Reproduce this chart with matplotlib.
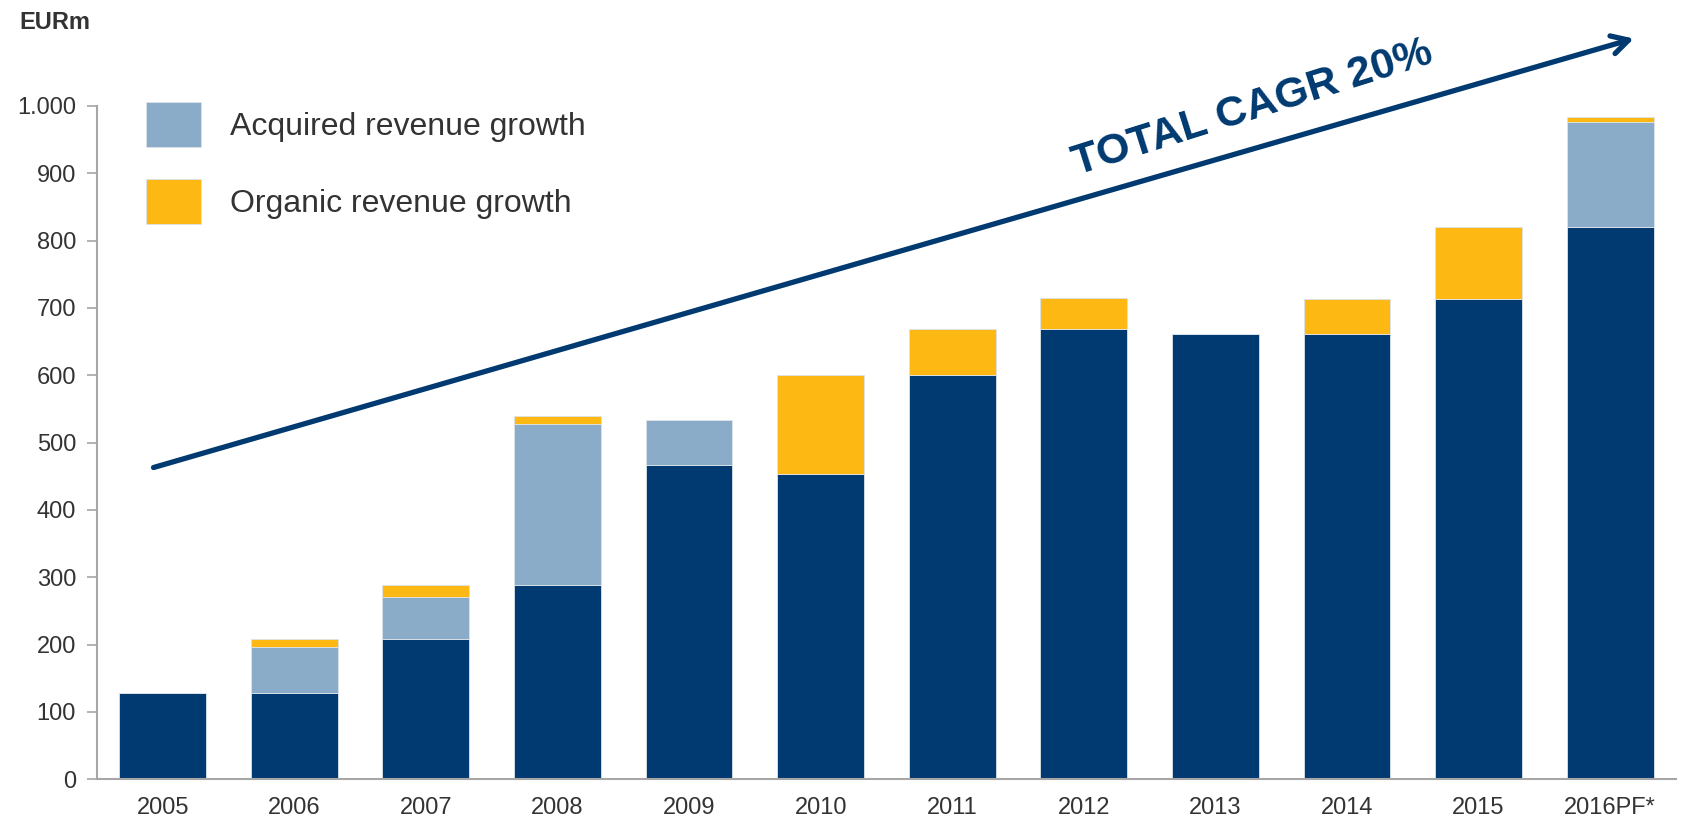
"""Revenue bridge: base revenue plus acquired and organic growth per year"""
import matplotlib

matplotlib.use("Agg")
import matplotlib.pyplot as plt  # pylint: disable=import-error
from matplotlib.ticker import FuncFormatter

plt.rcParams["font.family"] = ["Liberation Sans", "DejaVu Sans"]

YEARS = ["2005", "2006", "2007", "2008", "2009", "2010",
         "2011", "2012", "2013", "2014", "2015", "2016PF*"]
BASE = [128, 128, 208, 289, 467, 453, 600, 668, 662, 662, 713, 820]
ACQUIRED = [0, 69, 63, 238, 66, 0, 0, 0, 0, 0, 0, 156]
ORGANIC = [0, 11, 18, 13, 0, 147, 68, 46, 0, 51, 107, 8]
Y_TICKS = [0, 100, 200, 300, 400, 500, 600, 700, 800, 900, 1000]

DARK = "#003A70"
LIGHT = "#8AACC8"
ORANGE = "#FDB813"
TEXT = "#333333"
AXIS = "#A6A6A6"

fig = plt.figure(figsize=(16.83, 8.21), dpi=100)
ax = fig.add_axes([0.0576, 0.0508, 0.9382, 0.8202])

x = list(range(len(YEARS)))
width = 0.66
edge = dict(edgecolor="#dce3ea", linewidth=0.6)
ax.bar(x, BASE, width, color=DARK, **edge)
ax.bar(x, ACQUIRED, width, bottom=BASE, color=LIGHT,
       label="Acquired revenue growth", **edge)
stack = [b + a for b, a in zip(BASE, ACQUIRED)]
ax.bar(x, ORGANIC, width, bottom=stack, color=ORANGE,
       label="Organic revenue growth", **edge)

ax.set_xlim(-0.5, len(YEARS) - 0.5)
ax.set_ylim(0, 1000)
ax.set_xticks(x)
ax.set_xticklabels(YEARS)
ax.set_yticks(Y_TICKS)
ax.yaxis.set_major_formatter(FuncFormatter(lambda v, _: f"{int(v):,}".replace(",", ".")))
ax.tick_params(axis="x", length=0, pad=13, labelsize=17, labelcolor=TEXT)
ax.tick_params(axis="y", length=7, width=1.2, color=AXIS, pad=8,
               labelsize=17, labelcolor=TEXT)
for side in ("top", "right"):
    ax.spines[side].set_visible(False)
for side in ("left", "bottom"):
    ax.spines[side].set_color(AXIS)
    ax.spines[side].set_linewidth(1.5)

# growth arrow and label
ax.annotate("", xy=(11.18, 1100), xytext=(-0.07, 463), annotation_clip=False,
            arrowprops=dict(arrowstyle="->, head_length=0.4, head_width=0.22",
                            color=DARK, lw=3.8, mutation_scale=30,
                            shrinkA=0, shrinkB=0))
ax.text(8.28, 996, "TOTAL CAGR 20%", rotation=17.5, rotation_mode="anchor",
        ha="center", va="center", fontsize=31, fontweight="bold",
        color=DARK, clip_on=False)

fig.text(0.0115, 0.973, "EURm", fontsize=17, fontweight="bold",
         color=TEXT, ha="left", va="center")

fig.legend(loc="upper left", bbox_to_anchor=(0.0867, 0.8758), frameon=False,
           fontsize=23, handlelength=1.72, handleheight=1.8, handletextpad=0.9,
           labelspacing=1.0, borderpad=0, borderaxespad=0, labelcolor=TEXT)

fig.savefig("out.png", dpi=100)
